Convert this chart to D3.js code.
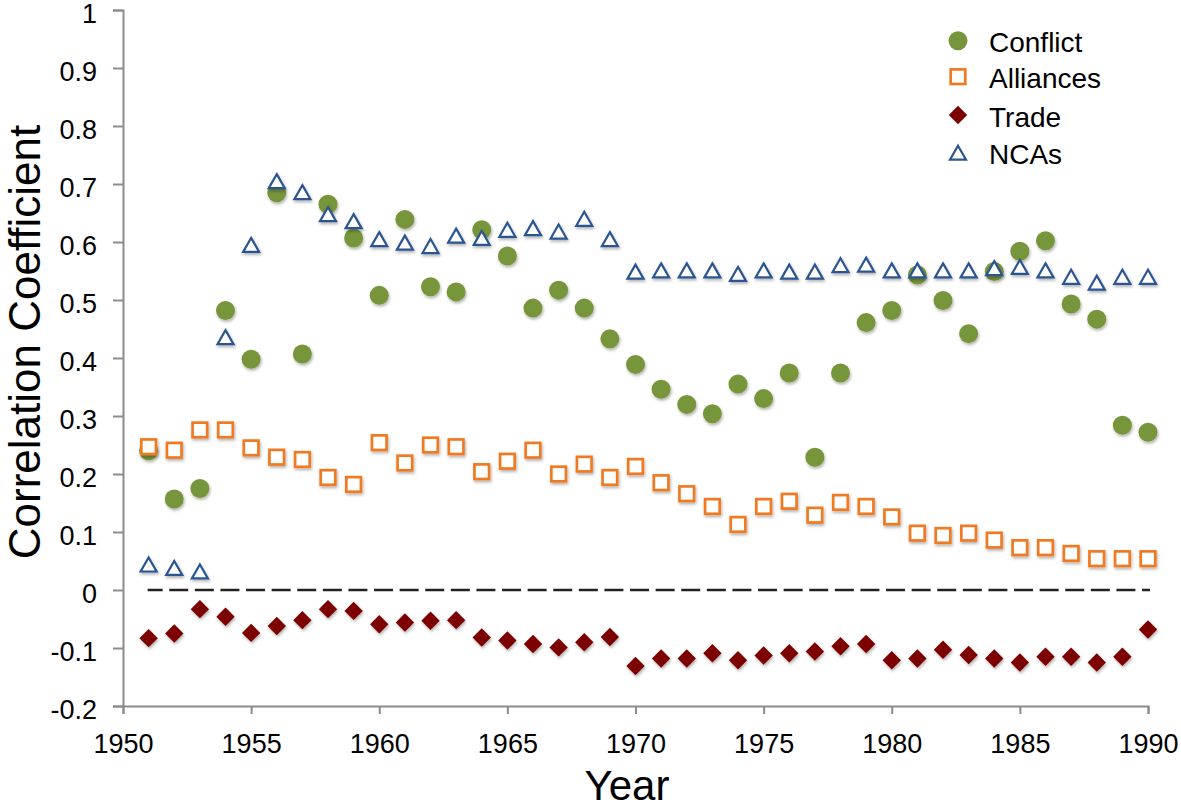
<!DOCTYPE html>
<html>
<head>
<meta charset="utf-8">
<script src="https://cdn.jsdelivr.net/npm/d3@7"></script>
<style>
  html, body { margin: 0; padding: 0; background: #fff; }
  svg { display: block; font-family: "Liberation Sans", Arial, Helvetica, sans-serif; }
</style>
</head>
<body>
<svg id="chart" width="1181" height="810"></svg>
<script>
// ---- Data ----
const years = d3.range(1951, 1991);
const conflict = [0.24, 0.157, 0.175, 0.482, 0.398, 0.685, 0.407, 0.665, 0.607, 0.508,
  0.639, 0.523, 0.514, 0.621, 0.576, 0.486, 0.517, 0.486, 0.433, 0.389,
  0.346, 0.320, 0.304, 0.355, 0.330, 0.374, 0.229, 0.374, 0.461, 0.482,
  0.543, 0.499, 0.442, 0.549, 0.584, 0.602, 0.493, 0.467, 0.284, 0.272];
const alliances = [0.247, 0.241, 0.276, 0.276, 0.245, 0.229, 0.225, 0.194, 0.182, 0.254,
  0.219, 0.250, 0.247, 0.204, 0.222, 0.241, 0.200, 0.217, 0.194, 0.213,
  0.185, 0.166, 0.144, 0.113, 0.144, 0.153, 0.129, 0.151, 0.144, 0.126,
  0.098, 0.094, 0.098, 0.086, 0.073, 0.073, 0.063, 0.054, 0.054, 0.054];
const trade = [-0.083, -0.075, -0.033, -0.046, -0.074, -0.062, -0.052, -0.033, -0.036, -0.059,
  -0.056, -0.053, -0.052, -0.082, -0.087, -0.093, -0.099, -0.090, -0.081, -0.131,
  -0.118, -0.118, -0.109, -0.121, -0.113, -0.109, -0.106, -0.097, -0.093, -0.121,
  -0.118, -0.103, -0.112, -0.118, -0.125, -0.115, -0.115, -0.125, -0.115, -0.068];
const ncas = [0.044, 0.038, 0.032, 0.436, 0.595, 0.705, 0.686, 0.648, 0.636, 0.605,
  0.599, 0.593, 0.611, 0.607, 0.621, 0.624, 0.618, 0.640, 0.605, 0.549,
  0.551, 0.551, 0.551, 0.545, 0.551, 0.549, 0.549, 0.560, 0.561, 0.551,
  0.551, 0.551, 0.551, 0.555, 0.557, 0.551, 0.540, 0.530, 0.540, 0.540];
const seriesNames = ["Conflict", "Alliances", "Trade", "NCAs"];
const xTickValues = [1950, 1955, 1960, 1965, 1970, 1975, 1980, 1985, 1990];
const yTickValues = [-0.2, -0.1, 0, 0.1, 0.2, 0.3, 0.4, 0.5, 0.6, 0.7, 0.8, 0.9, 1];
const yTickLabels = ["-0.2", "-0.1", "0", "0.1", "0.2", "0.3", "0.4", "0.5", "0.6", "0.7", "0.8", "0.9", "1"];
const zeroLineYears = [1951, 1990];

// ---- Layout ----
const svg = d3.select("#chart");
const x = d3.scaleLinear().domain([1950, 1990]).range([123, 1148]);
const y = d3.scaleLinear().domain([-0.2, 1]).range([706, 10]);

const defs = svg.append("defs");
const f = defs.append("filter").attr("id", "shadow")
  .attr("x", "-50%").attr("y", "-50%").attr("width", "200%").attr("height", "200%");
f.append("feDropShadow").attr("dx", 1).attr("dy", 2).attr("stdDeviation", 1.4)
  .attr("flood-color", "#000").attr("flood-opacity", 0.3);

const axisColor = "#8c8c8c";

// Y axis
const yAxis = d3.axisLeft(y).tickValues(yTickValues).tickSize(10).tickPadding(16)
  .tickFormat((d, i) => yTickLabels[i]);
const gy = svg.append("g").attr("transform", "translate(123,0)").call(yAxis);
gy.select(".domain").attr("stroke", axisColor).attr("stroke-width", 2);
gy.selectAll(".tick line").attr("stroke", axisColor).attr("stroke-width", 2);
gy.selectAll(".tick text").attr("font-size", 27).attr("fill", "#000")
  .attr("font-family", "Liberation Sans, Arial, sans-serif").attr("dy", "0.45em");

// X axis
const xAxis = d3.axisBottom(x).tickValues(xTickValues).tickSize(8).tickPadding(20)
  .tickFormat(d3.format("d"));
const gx = svg.append("g").attr("transform", "translate(0,706)").call(xAxis);
gx.select(".domain").attr("stroke", axisColor).attr("stroke-width", 2);
gx.selectAll(".tick line").attr("stroke", axisColor).attr("stroke-width", 2);
gx.selectAll(".tick text").attr("font-size", 27).attr("fill", "#000")
  .attr("font-family", "Liberation Sans, Arial, sans-serif").attr("dy", "0.71em");

// Axis titles
svg.append("text").attr("x", 627).attr("y", 800).attr("text-anchor", "middle")
  .attr("font-size", 42).attr("fill", "#000").text("Year");
svg.append("text").attr("transform", "translate(40,342) rotate(-90)")
  .attr("text-anchor", "middle").attr("font-size", 44).attr("fill", "#000")
  .text("Correlation Coefficient");

// Zero dashed line
svg.append("line")
  .attr("x1", x(zeroLineYears[0]) - 1).attr("x2", x(zeroLineYears[1]) + 2)
  .attr("y1", y(0)).attr("y2", y(0))
  .attr("stroke", "#222").attr("stroke-width", 2.5)
  .attr("stroke-dasharray", "19 6.6").attr("stroke-dashoffset", 4);

// Marker styles
const colors = { conflict: "#77953b", alliances: "#f07a22", trade: "#7d0000", ncas: "#2c5592" };
function drawMarker(g, type, cx, cy) {
  if (type === 0) {
    g.append("circle").attr("cx", cx).attr("cy", cy).attr("r", 9.5).attr("fill", colors.conflict);
  } else if (type === 1) {
    const s = 14.6;
    g.append("rect").attr("x", cx - s / 2).attr("y", cy - s / 2).attr("width", s).attr("height", s)
      .attr("fill", "#fff").attr("stroke", colors.alliances).attr("stroke-width", 2.7);
  } else if (type === 2) {
    const h = 9.2;
    g.append("path").attr("d", `M${cx},${cy - h}L${cx + h},${cy}L${cx},${cy + h}L${cx - h},${cy}Z`)
      .attr("fill", colors.trade);
  } else {
    g.append("path").attr("d", `M${cx},${cy - 7}L${cx + 8},${cy + 7}L${cx - 8},${cy + 7}Z`)
      .attr("fill", "#fff").attr("stroke", colors.ncas).attr("stroke-width", 2.2)
      .attr("stroke-linejoin", "miter");
  }
}

const allSeries = [conflict, alliances, trade, ncas];
allSeries.forEach((vals, si) => {
  const g = svg.append("g").attr("filter", "url(#shadow)");
  vals.forEach((v, i) => drawMarker(g, si, x(years[i]), y(v)));
});

// Legend
const legendY = [40.7, 76.7, 115, 152.7];
const lg = svg.append("g");
seriesNames.forEach((name, i) => {
  drawMarker(lg, i, 958, legendY[i]);
  lg.append("text").attr("x", 989).attr("y", legendY[i] + 11.5)
    .attr("font-size", 28).attr("fill", "#000").text(name);
});
</script>
</body>
</html>
